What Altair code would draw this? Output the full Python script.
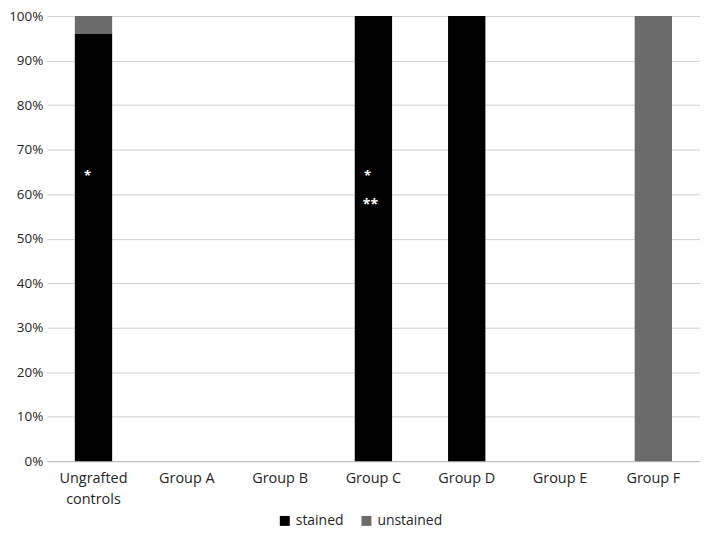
import altair as alt
import pandas as pd

groups = ["Ungrafted controls", "Group A", "Group B", "Group C", "Group D", "Group E", "Group F"]
series = ["stained", "unstained"]
stained = [0.96, None, None, 1.0, 1.0, None, 0.0]
unstained = [0.04, None, None, 0.0, 0.0, None, 1.0]
colors = ["#000000", "#6b6b6b"]

ann_groups = ["Ungrafted controls", "Group C", "Group C"]
ann_values = [0.64, 0.64, 0.575]
ann_text = ["*", "*", "**"]

rows = []
for g, s, u in zip(groups, stained, unstained):
    if s is not None:
        rows.append({"group": g, "series": "stained", "value": s, "ord": 0})
    if u is not None:
        rows.append({"group": g, "series": "unstained", "value": u, "ord": 1})
df = pd.DataFrame(rows)
ann = pd.DataFrame({"group": ann_groups, "value": ann_values, "text": ann_text})

FONT = "Open Sans"
TXT = "#262626"

x = alt.X("group:N", scale=alt.Scale(domain=groups, paddingInner=0.6, paddingOuter=0.3),
          axis=alt.Axis(title=None, labelAngle=0, labelFontSize=14.5, labelColor=TXT,
                        labelFont=FONT, labelPadding=10, ticks=False, labelLineHeight=22,
                        domainColor="#bfbfbf", labelLimit=200,
                        labelExpr="datum.label == 'Ungrafted controls' ? ['Ungrafted', 'controls'] : datum.label"))

bars = alt.Chart(df).mark_bar().encode(
    x=x,
    y=alt.Y("value:Q", stack="zero", scale=alt.Scale(domain=[0, 1], nice=False),
            axis=alt.Axis(title=None, format=".0%", values=[i / 10 for i in range(11)],
                          labelFontSize=13.5, labelColor=TXT, labelFont=FONT,
                          domain=False, ticks=False, gridColor="#d0d0d0", labelPadding=4)),
    color=alt.Color("series:N", scale=alt.Scale(domain=series, range=colors),
                    legend=alt.Legend(title=None, orient="none", legendX=232, legendY=500,
                                      direction="horizontal",
                                      symbolType="square", symbolSize=100, labelFontSize=14,
                                      labelColor=TXT, labelFont=FONT, columnPadding=16,
                                      symbolStrokeWidth=0, labelOffset=4)),
    order=alt.Order("ord:Q"),
)

single = alt.Chart(ann).transform_filter("datum.text == '*'").mark_text(
    color="white", fontSize=13, font=FONT, fontWeight="bold", dx=-6).encode(
    x=alt.X("group:N", scale=alt.Scale(domain=groups)),
    y=alt.Y("value:Q"),
    text="text:N",
)
double = alt.Chart(ann).transform_filter("datum.text == '**'").mark_text(
    color="white", fontSize=14, font=FONT, fontWeight="bold", dx=-3).encode(
    x=alt.X("group:N", scale=alt.Scale(domain=groups)),
    y=alt.Y("value:Q"),
    text="text:N",
)

chart = alt.layer(bars, single, double).properties(
    width=656, height=447, padding={"left": 0, "top": 0, "right": 0, "bottom": 0}
).configure_view(stroke=None)

chart.save("out.html", embed_options={"renderer": "svg", "actions": False})
